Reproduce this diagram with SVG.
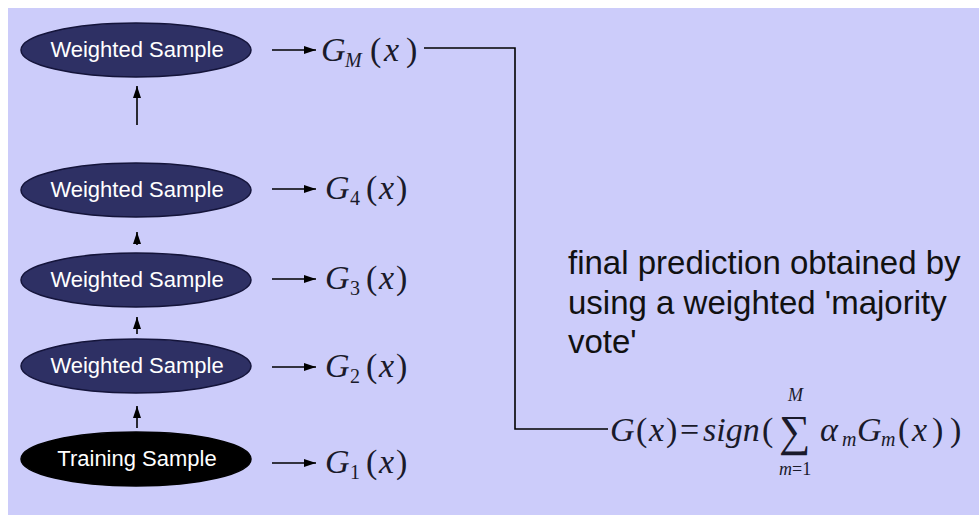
<svg xmlns="http://www.w3.org/2000/svg" width="979" height="515" viewBox="0 0 979 515">
<defs>
<style>
.ws{fill:#2e3064;stroke:#14143a;stroke-width:1.5}
.ts{fill:#000;stroke:#000;stroke-width:1.5}
.nt{font-family:"Liberation Sans",Arial,sans-serif;font-size:22px;fill:#fff;text-anchor:middle}
.m{font-family:"Liberation Serif","Times New Roman",serif;font-size:34px;fill:#1a1a2a}
.i{font-style:italic}
.sub{font-size:20px}
.body{font-family:"Liberation Sans",Arial,sans-serif;font-size:33px;fill:#111}
.ln{stroke:#000;stroke-width:1.6;fill:none}
</style>
<marker id="ah" viewBox="0 0 12 10" refX="12" refY="5" markerWidth="12" markerHeight="10" markerUnits="userSpaceOnUse" orient="auto">
<path d="M0,1 L12,5 L0,9 Z" fill="#000"/>
</marker>
</defs>
<rect x="0" y="0" width="979" height="515" fill="#fff"/>
<rect x="8" y="8" width="971" height="507" fill="#ccccfa"/>

<g id="connectors">
<line class="ln" x1="137" y1="125" x2="137" y2="86" marker-end="url(#ah)"/>
<line class="ln" x1="137" y1="245" x2="137" y2="232" marker-end="url(#ah)"/>
<line class="ln" x1="137" y1="334" x2="137" y2="317" marker-end="url(#ah)"/>
<line class="ln" x1="137" y1="428" x2="137" y2="406" marker-end="url(#ah)"/>
<line class="ln" x1="272" y1="50" x2="316" y2="50" marker-end="url(#ah)"/>
<line class="ln" x1="272" y1="189" x2="316" y2="189" marker-end="url(#ah)"/>
<line class="ln" x1="272" y1="279" x2="316" y2="279" marker-end="url(#ah)"/>
<line class="ln" x1="272" y1="367" x2="316" y2="367" marker-end="url(#ah)"/>
<line class="ln" x1="272" y1="463" x2="316" y2="463" marker-end="url(#ah)"/>
<polyline class="ln" points="424,48 515,48 515,429 608,429"/>
</g>

<g id="node-wsM">
<ellipse class="ws" cx="136" cy="50" rx="115" ry="27"/>
<text class="nt" x="137" y="57">Weighted Sample</text>
</g>
<g id="node-ws4">
<ellipse class="ws" cx="136" cy="190" rx="115" ry="27"/>
<text class="nt" x="137" y="197">Weighted Sample</text>
</g>
<g id="node-ws3">
<ellipse class="ws" cx="136" cy="280" rx="115" ry="27"/>
<text class="nt" x="137" y="287">Weighted Sample</text>
</g>
<g id="node-ws2">
<ellipse class="ws" cx="136" cy="366" rx="115" ry="27"/>
<text class="nt" x="137" y="373">Weighted Sample</text>
</g>
<g id="node-train">
<ellipse class="ts" cx="136" cy="459" rx="115" ry="27"/>
<text class="nt" x="137" y="466">Training Sample</text>
</g>

<g id="labels">
<text class="m" y="61"><tspan class="i" x="321">G</tspan><tspan class="i sub" x="345" dy="6">M</tspan><tspan x="370" dy="-6">(</tspan><tspan class="i" x="384">x</tspan><tspan x="406">)</tspan></text>
<text class="m" y="199"><tspan class="i" x="325">G</tspan><tspan class="sub" x="350" dy="6">4</tspan><tspan x="366" dy="-6">(</tspan><tspan class="i" x="379">x</tspan><tspan x="396">)</tspan></text>
<text class="m" y="289"><tspan class="i" x="325">G</tspan><tspan class="sub" x="350" dy="6">3</tspan><tspan x="366" dy="-6">(</tspan><tspan class="i" x="379">x</tspan><tspan x="396">)</tspan></text>
<text class="m" y="377"><tspan class="i" x="325">G</tspan><tspan class="sub" x="350" dy="6">2</tspan><tspan x="366" dy="-6">(</tspan><tspan class="i" x="379">x</tspan><tspan x="396">)</tspan></text>
<text class="m" y="473"><tspan class="i" x="325">G</tspan><tspan class="sub" x="350" dy="6">1</tspan><tspan x="366" dy="-6">(</tspan><tspan class="i" x="379">x</tspan><tspan x="396">)</tspan></text>

<text class="body" x="568" y="274">final prediction obtained by</text>
<text class="body" x="568" y="314">using a weighted 'majority</text>
<text class="body" x="568" y="353">vote'</text>

<text class="m" y="441"><tspan class="i" x="610">G</tspan><tspan x="636">(</tspan><tspan class="i" x="649">x</tspan><tspan x="666">)</tspan><tspan x="680">=</tspan><tspan class="i" x="703">sign</tspan><tspan x="762">(</tspan></text>
<text class="m" x="779" y="446" style="font-size:44px">∑</text>
<text class="m i" x="788" y="401" style="font-size:18px">M</text>
<text class="m" x="779" y="475" style="font-size:18px"><tspan class="i">m</tspan>=1</text>
<text class="m" y="441"><tspan class="i" x="820">α</tspan><tspan class="i" x="842" dy="5" style="font-size:20px">m</tspan><tspan class="i" x="857" dy="-5">G</tspan><tspan class="i" x="881" dy="5" style="font-size:20px">m</tspan><tspan x="898" dy="-5">(</tspan><tspan class="i" x="912">x</tspan><tspan x="932">)</tspan><tspan x="950">)</tspan></text>
</g>
</svg>
